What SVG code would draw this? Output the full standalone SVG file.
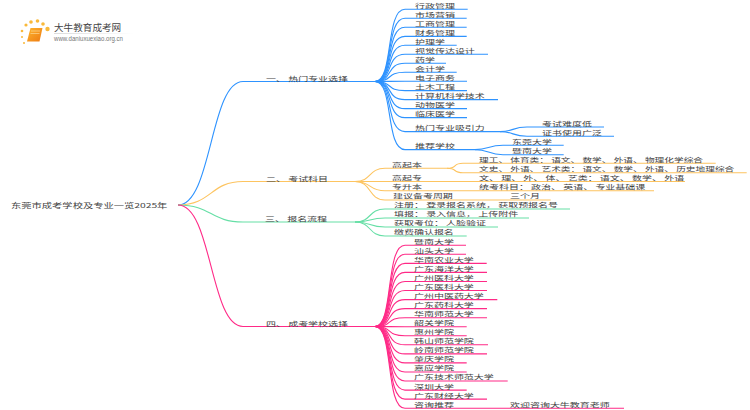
<svg xmlns="http://www.w3.org/2000/svg" width="750" height="410" viewBox="0 0 750 410">
<defs>
<linearGradient id="rule" x1="0" x2="1" y1="0" y2="0"><stop offset="0" stop-color="#ccc"/><stop offset="1" stop-color="#fff"/></linearGradient>
<linearGradient id="book" x1="0" x2="1" y1="0" y2="1"><stop offset="0" stop-color="#fdb52e"/><stop offset="1" stop-color="#ee7a12"/></linearGradient>
</defs>
<style>
text{font-family:"Noto Sans CJK SC","Liberation Sans",sans-serif;font-size:10px;fill:#444}
.c{fill:none;stroke-width:1.100}
.b{stroke:#2e93ff}.o{stroke:#fdc460}.g{stroke:#66dfa6}.p{stroke:#ff2a87}
.d{fill:#f9b93a}
.n{font-size:9.700px}
</style>
<rect width="750" height="410" fill="#fff"/>
<g id="logo">
<circle class="d" cx="26" cy="25" r="1.6"/><circle class="d" cx="22" cy="31" r="1.3"/><circle class="d" cx="31" cy="22" r="1.8"/><circle class="d" cx="37.500" cy="21" r="1.800"/><circle class="d" cx="43" cy="24" r="1.800"/><circle class="d" cx="47.500" cy="29" r="2.200"/><circle class="d" cx="22" cy="37" r="1"/><circle class="d" cx="24" cy="43" r="1"/>
<path d="M30.500 28H42.500L39.500 41.500H27Z" fill="url(#book)"/>
<path d="M31 31H40M30.500 33.500H39.500" stroke="#fde3a8" stroke-width=".6" fill="none"/>
<rect x="54" y="33" width="80" height="0.700" fill="url(#rule)"/>
<text transform="matrix(1 0 0 .95 54 30.500)" style="font-size:9.600px">大牛教育成考网</text>
<text x="54" y="41" textLength="69" lengthAdjust="spacingAndGlyphs" style="font-size:6.500px;fill:#777;font-family:'Liberation Sans',sans-serif">www.daniuxuexiao.org.cn</text>
</g>
<g id="connectors">
<path class="c b" d="M178 205C212 205 210 81.500 243 81.500H375"/>
<path class="c o" d="M178 205C212 205 210 181.500 243 181.500H355"/>
<path class="c g" d="M178 205C212 205 210 222 243 222H355"/>
<path class="c p" d="M178 205C212 205 210 326.500 243 326.500H375"/>
<path class="c b" d="M375 81.500C394 81.500 385 9.300 405 9.300H467.700"/>
<path class="c b" d="M375 81.500C394 81.500 385 18.300 405 18.300H466.700"/>
<path class="c b" d="M375 81.500C394 81.500 385 27.300 405 27.300H466.700"/>
<path class="c b" d="M375 81.500C394 81.500 385 36.400 405 36.400H466.700"/>
<path class="c b" d="M375 81.500C394 81.500 385 45.300 405 45.300H456.700"/>
<path class="c b" d="M375 81.500C394 81.500 385 54.300 405 54.300H488"/>
<path class="c b" d="M375 81.500C394 81.500 385 63.300 405 63.300H446"/>
<path class="c b" d="M375 81.500C394 81.500 385 72.300 405 72.300H456.700"/>
<path class="c b" d="M375 81.500C394 81.500 385 81.300 405 81.300H467"/>
<path class="c b" d="M375 81.500C394 81.500 385 90.600 405 90.600H467"/>
<path class="c b" d="M375 81.500C394 81.500 385 99.600 405 99.600H498"/>
<path class="c b" d="M375 81.500C394 81.500 385 108.600 405 108.600H467"/>
<path class="c b" d="M375 81.500C394 81.500 385 117.600 405 117.600H467"/>
<path class="c b" d="M375 81.500C394 81.500 385 131.600 405 131.600H500"/>
<path class="c b" d="M375 81.500C394 81.500 385 149.600 405 149.600H475"/>
<path class="c b" d="M500 131.600C514 131.600 512 127 527 127H604"/>
<path class="c b" d="M500 131.600C514 131.600 512 136.300 527 136.300H614"/>
<path class="c b" d="M475 149.600C489 149.600 488 145.300 503 145.300H563.700"/>
<path class="c b" d="M475 149.600C489 149.600 488 154.700 503 154.700H563.700"/>
<path class="c o" d="M355 181.500C372 181.500 368 168.300 385 168.300H447"/>
<path class="c o" d="M355 181.500H685"/>
<path class="c o" d="M355 181.500C372 181.500 368 190.700 385 190.700H654"/>
<path class="c o" d="M355 181.500C372 181.500 368 200 385 200H550.700"/>
<path class="c o" d="M447 168.300C458 168.300 452 163.300 463 163.300H715.700"/>
<path class="c o" d="M447 168.300C458 168.300 452 172.700 463 172.700H746.700"/>
<path class="c g" d="M355 222C372 222 368 209 385 209H570"/>
<path class="c g" d="M355 222C372 222 368 218 385 218H529"/>
<path class="c g" d="M355 222C372 222 368 227 385 227H498"/>
<path class="c g" d="M355 222C372 222 368 236 385 236H466.700"/>
<path class="c p" d="M375 326.500C394 326.500 385 245.300 405 245.300H466"/>
<path class="c p" d="M375 326.500C394 326.500 385 254.300 405 254.300H466"/>
<path class="c p" d="M375 326.500C394 326.500 385 263.400 405 263.400H486.700"/>
<path class="c p" d="M375 326.500C394 326.500 385 272.400 405 272.400H487"/>
<path class="c p" d="M375 326.500C394 326.500 385 281.500 405 281.500H487"/>
<path class="c p" d="M375 326.500C394 326.500 385 290.500 405 290.500H487"/>
<path class="c p" d="M375 326.500C394 326.500 385 299.600 405 299.600H497.300"/>
<path class="c p" d="M375 326.500C394 326.500 385 308.600 405 308.600H487"/>
<path class="c p" d="M375 326.500C394 326.500 385 317.700 405 317.700H487"/>
<path class="c p" d="M375 326.500C394 326.500 385 326.700 405 326.700H466.700"/>
<path class="c p" d="M375 326.500C394 326.500 385 335.800 405 335.800H466.700"/>
<path class="c p" d="M375 326.500C394 326.500 385 344.800 405 344.800H488"/>
<path class="c p" d="M375 326.500C394 326.500 385 353.900 405 353.900H487"/>
<path class="c p" d="M375 326.500C394 326.500 385 362.900 405 362.900H466.700"/>
<path class="c p" d="M375 326.500C394 326.500 385 372 405 372H466.700"/>
<path class="c p" d="M375 326.500C394 326.500 385 381 405 381H507.700"/>
<path class="c p" d="M375 326.500C394 326.500 385 390.100 405 390.100H466.700"/>
<path class="c p" d="M375 326.500C394 326.500 385 399.100 405 399.100H487"/>
<path class="c p" d="M375 326.500C394 326.500 385 408.300 405 408.300H624"/>
</g>
<g id="root"><text transform="matrix(1 0 0 .62 11 208)" style="font-size:10.300px">东莞市成考学校及专业一览2025年</text></g>
<g id="branch1"><text transform="matrix(1 0 0 .62 266 80.500)">一、 热门专业选择</text></g>
<g id="branch2"><text transform="matrix(1 0 0 .62 266 180.500)">二、 考试科目</text></g>
<g id="branch3"><text transform="matrix(1 0 0 .62 265 221)">三、 报名流程</text></g>
<g id="branch4"><text transform="matrix(1 0 0 .62 266 325.500)">四、 成考学校选择</text></g>
<g id="hot" transform="translate(0 -1)">
<text transform="matrix(1 0 0 .62 415 8.700)">行政管理</text><text transform="matrix(1 0 0 .62 415 17.700)">市场营销</text><text transform="matrix(1 0 0 .62 415 26.700)">工商管理</text><text transform="matrix(1 0 0 .62 415 35.700)">财务管理</text><text transform="matrix(1 0 0 .62 415 44.700)">护理学</text><text transform="matrix(1 0 0 .62 415 53.700)">视觉传达设计</text><text transform="matrix(1 0 0 .62 415 62.700)">药学</text><text transform="matrix(1 0 0 .62 415 71.700)">会计学</text><text transform="matrix(1 0 0 .62 415 80.700)">电子商务</text><text transform="matrix(1 0 0 .62 415 90)">土木工程</text><text transform="matrix(1 0 0 .62 415 99)">计算机科学技术</text><text transform="matrix(1 0 0 .62 415 108)">动物医学</text><text transform="matrix(1 0 0 .62 415 117)">临床医学</text><text transform="matrix(1 0 0 .62 415 131)">热门专业吸引力</text><text transform="matrix(1 0 0 .62 415 149)">推荐学校</text><text transform="matrix(1 0 0 .62 542 126.500)">考试难度低</text><text transform="matrix(1 0 0 .62 542 135.700)">证书使用广泛</text><text transform="matrix(1 0 0 .62 512 144.700)">东莞大学</text><text transform="matrix(1 0 0 .62 512 154)">暨南大学</text>
</g>
<g id="subjects" transform="translate(0 -1)">
<text transform="matrix(1 0 0 .62 392 167.700)">高起本</text><text transform="matrix(1 0 0 .62 392 181)">高起专</text><text transform="matrix(1 0 0 .62 392 190)">专升本</text><text transform="matrix(1 0 0 .62 393 199.400)">建议备考周期</text><text class="n" transform="matrix(1 0 0 .62 479 162.700)">理工、 体育类： 语文、 数学、 外语、 物理化学综合</text><text class="n" transform="matrix(1 0 0 .62 479 172)">文史、 外语、 艺术类： 语文、 数学、 外语、 历史地理综合</text><text transform="matrix(1 0 0 .62 479 181)">文、 理、 外、 体、 艺类： 语文、 数学、 外语</text><text transform="matrix(1 0 0 .62 479 190)">统考科目： 政治、 英语、 专业基础课</text><text transform="matrix(1 0 0 .62 510 199.400)">三个月</text>
</g>
<g id="process" transform="translate(0 -1)">
<text transform="matrix(1 0 0 .62 394 208.400)">注册： 登录报名系统， 获取预报名号</text><text transform="matrix(1 0 0 .62 394 217.400)">填报： 录入信息， 上传附件</text><text transform="matrix(1 0 0 .62 394 226.400)">获取考位： 人脸验证</text><text transform="matrix(1 0 0 .62 394 235.400)">缴费确认报名</text>
</g>
<g id="schools" transform="translate(0 -1)">
<text transform="matrix(1 0 0 .62 414 244.700)">暨南大学</text><text transform="matrix(1 0 0 .62 414 253.700)">汕头大学</text><text transform="matrix(1 0 0 .62 414 262.800)">华南农业大学</text><text transform="matrix(1 0 0 .62 414 271.800)">广东海洋大学</text><text transform="matrix(1 0 0 .62 414 280.900)">广州医科大学</text><text transform="matrix(1 0 0 .62 414 289.900)">广东医科大学</text><text transform="matrix(1 0 0 .62 414 299)">广州中医药大学</text><text transform="matrix(1 0 0 .62 414 308)">广东药科大学</text><text transform="matrix(1 0 0 .62 414 317.100)">华南师范大学</text><text transform="matrix(1 0 0 .62 414 326.100)">韶关学院</text><text transform="matrix(1 0 0 .62 414 335.200)">惠州学院</text><text transform="matrix(1 0 0 .62 414 344.200)">韩山师范学院</text><text transform="matrix(1 0 0 .62 414 353.300)">岭南师范学院</text><text transform="matrix(1 0 0 .62 414 362.300)">肇庆学院</text><text transform="matrix(1 0 0 .62 414 371.400)">嘉应学院</text><text transform="matrix(1 0 0 .62 414 380.400)">广东技术师范大学</text><text transform="matrix(1 0 0 .62 414 389.500)">深圳大学</text><text transform="matrix(1 0 0 .62 414 398.500)">广东财经大学</text><text transform="matrix(1 0 0 .62 414 407.700)">咨询推荐</text><text transform="matrix(1 0 0 .62 510 407.700)">欢迎咨询大牛教育老师</text>
</g>
</svg>
